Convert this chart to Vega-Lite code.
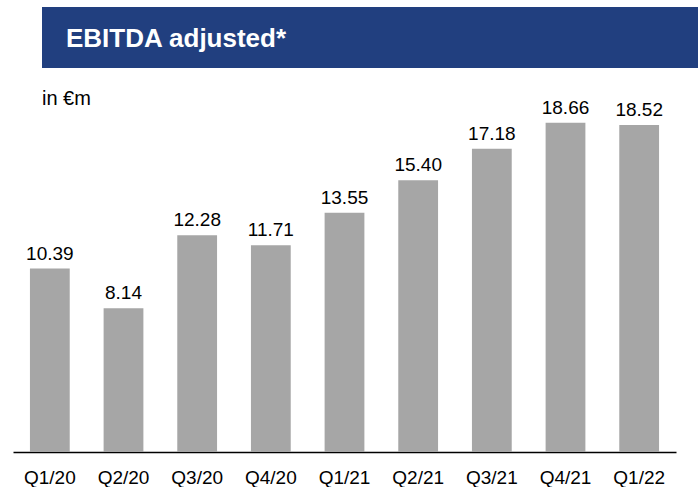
{
  "$schema": "https://vega.github.io/schema/vega-lite/v6.json",
  "padding": {"left": 13, "top": 7, "right": 0, "bottom": 0},
  "background": "white",
  "spacing": 20,
  "config": {"font": "Liberation Sans", "view": {"stroke": null}},
  "vconcat": [
    {
      "width": 685,
      "height": 61,
      "data": {"values": [{"title": "EBITDA adjusted*"}]},
      "encoding": {
        "x": {"field": "title", "type": "nominal", "scale": {"paddingInner": 0, "paddingOuter": 0.022104, "align": 1}, "axis": null}
      },
      "layer": [
        {"mark": {"type": "bar", "color": "#213f7f"}},
        {"mark": {"type": "text", "align": "left", "baseline": "middle", "dx": 24, "dy": 1, "fontSize": 26, "fontWeight": "bold", "color": "white", "font": "Liberation Sans"},
         "encoding": {
           "x": {"field": "title", "type": "nominal", "bandPosition": 0},
           "text": {"field": "title"}
         }}
      ]
    },
    {
      "width": 663,
      "height": 353,
      "title": {"text": "in €m", "anchor": "start", "frame": "group", "dx": 29, "fontSize": 20, "fontWeight": "normal", "color": "black", "font": "Liberation Sans", "baseline": "alphabetic", "offset": -26},
      "data": {"values": [
        {"q": "Q1/20", "v": 10.39},
        {"q": "Q2/20", "v": 8.14},
        {"q": "Q3/20", "v": 12.28},
        {"q": "Q4/20", "v": 11.71},
        {"q": "Q1/21", "v": 13.55},
        {"q": "Q2/21", "v": 15.40},
        {"q": "Q3/21", "v": 17.18},
        {"q": "Q4/21", "v": 18.66},
        {"q": "Q1/22", "v": 18.52}
      ]},
      "encoding": {
        "x": {"field": "q", "type": "nominal", "sort": null,
          "scale": {"paddingInner": 0.46, "paddingOuter": 0.23},
          "axis": {"title": null, "labelAngle": 0, "labelFontSize": 19, "labelColor": "black", "labelFont": "Liberation Sans", "domainColor": "black", "domainWidth": 1.5, "ticks": false, "tickSize": 0, "labelPadding": 16}},
        "y": {"field": "v", "type": "quantitative", "scale": {"domain": [0, 20], "nice": false}, "axis": null}
      },
      "layer": [
        {"mark": {"type": "bar", "color": "#a6a6a6"}},
        {"mark": {"type": "text", "baseline": "alphabetic", "dy": -9, "fontSize": 19, "color": "black", "font": "Liberation Sans"},
         "encoding": {"text": {"field": "v", "type": "quantitative", "format": ".2f"}}}
      ]
    }
  ]
}
